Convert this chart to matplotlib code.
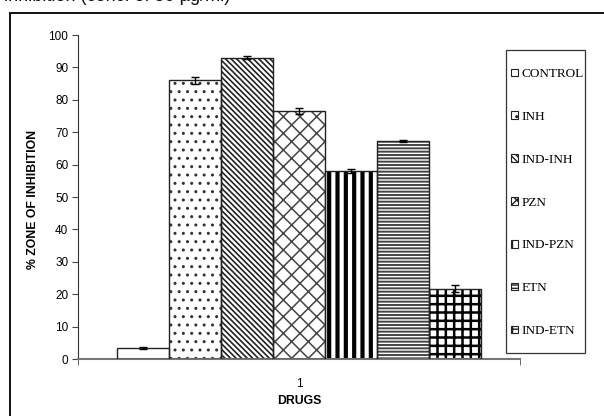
import matplotlib
matplotlib.use("Agg")
import matplotlib.pyplot as plt
from matplotlib.patches import Rectangle
import numpy as np

drugs = ["CONTROL", "INH", "IND-INH", "PZN", "IND-PZN", "ETN", "IND-ETN"]
inhibition = [3.3, 86.0, 93.0, 76.5, 58.0, 67.3, 21.7]
errors = [0.3, 1.0, 0.4, 1.0, 0.5, 0.4, 1.0]
group_label = "1"

hatches = [None, "..", "\\\\\\\\\\\\", "xx", "||", "-----", "++"]
hatch_colors = ["black", "#333333", "#222222", "#444444", "black", "#444444", "black"]
hatch_widths = [1.0, 1.0, 1.2, 1.1, 3.0, 1.4, 1.8]

plt.rcParams["font.family"] = ["Liberation Sans", "DejaVu Sans"]

fig = plt.figure(figsize=(6.04, 4.16), dpi=100)
ax = fig.add_axes([78 / 604, 1 - 359 / 416, 442 / 604, 324 / 416])

# outer chart frame (runs off the right and bottom edges)
fig.patches.append(Rectangle((10 / 604, -0.1), 1.0, 1 - 13 / 416 + 0.1,
                             transform=fig.transFigure, fill=False,
                             edgecolor="#111111", lw=1.4))

# title line above the frame, mostly cropped off in the original
fig.text(230 / 604, 1 - 1 / 416, "inhibition (conc. of 50 µg/ml)", ha="right",
         va="baseline", fontsize=13, color="#111111")

w = 52.1 / 442
x0 = 1.0
handles = []
for i, (name, val, err) in enumerate(zip(drugs, inhibition, errors)):
    xc = x0 + (i - 3) * w
    b = ax.bar(xc, val, width=w, color="white", edgecolor=hatch_colors[i],
               hatch=hatches[i], linewidth=0, zorder=2)[0]
    if hasattr(b, "set_hatch_linewidth"):
        b.set_hatch_linewidth(hatch_widths[i])
    ax.bar(xc, val, width=w, fill=False, edgecolor="#222222", linewidth=1.0, zorder=3)
    ax.errorbar(xc, val, yerr=err, fmt="none", ecolor="black", elinewidth=1,
                capsize=3, capthick=1, zorder=4)
    h = Rectangle((0, 0), 1, 1, facecolor="white", edgecolor="#222222",
                  hatch=hatches[i], lw=0.8)
    handles.append(h)

ax.set_xlim(0.5, 1.5)
ax.set_ylim(0, 100)
ax.set_yticks(np.arange(0, 101, 10))
ax.set_xticks([1.0])
ax.set_xticklabels([group_label])
ax.set_xticks([0.5, 1.5], minor=True)
ax.tick_params(axis="x", which="major", length=0, labelsize=8.5, pad=14)
ax.tick_params(axis="x", which="minor", length=4, color="#555555", direction="out")
ax.tick_params(axis="y", length=4, color="#444444", labelsize=8.5, pad=3)
for s in ["top", "right"]:
    ax.spines[s].set_visible(False)
ax.spines["left"].set_color("#333333")
ax.spines["bottom"].set_color("#777777")
ax.spines["bottom"].set_linewidth(1.5)

ax.set_xlabel("DRUGS", fontsize=8.8, fontweight="bold", labelpad=3)
fig.text(33 / 604, 1 - 199 / 416, "% ZONE OF INHIBITION", rotation=90,
         ha="center", va="center", fontsize=8.8, fontweight="bold")

# legend box drawn separately so its size matches the original
fig.patches.append(Rectangle((506 / 604, 1 - 353 / 416), 79 / 604, 303 / 416,
                             transform=fig.transFigure, fill=False,
                             edgecolor="#333333", lw=0.9))
leg = fig.legend(handles, drugs, loc="upper left",
                 bbox_to_anchor=(511 / 604, 1 - 68 / 416),
                 frameon=False,
                 prop={"family": "Liberation Serif", "size": 9.5},
                 handlelength=0.5, handleheight=0.5, handletextpad=0.3,
                 labelspacing=2.34, borderpad=0, borderaxespad=0)

fig.savefig("out.png", dpi=100)
